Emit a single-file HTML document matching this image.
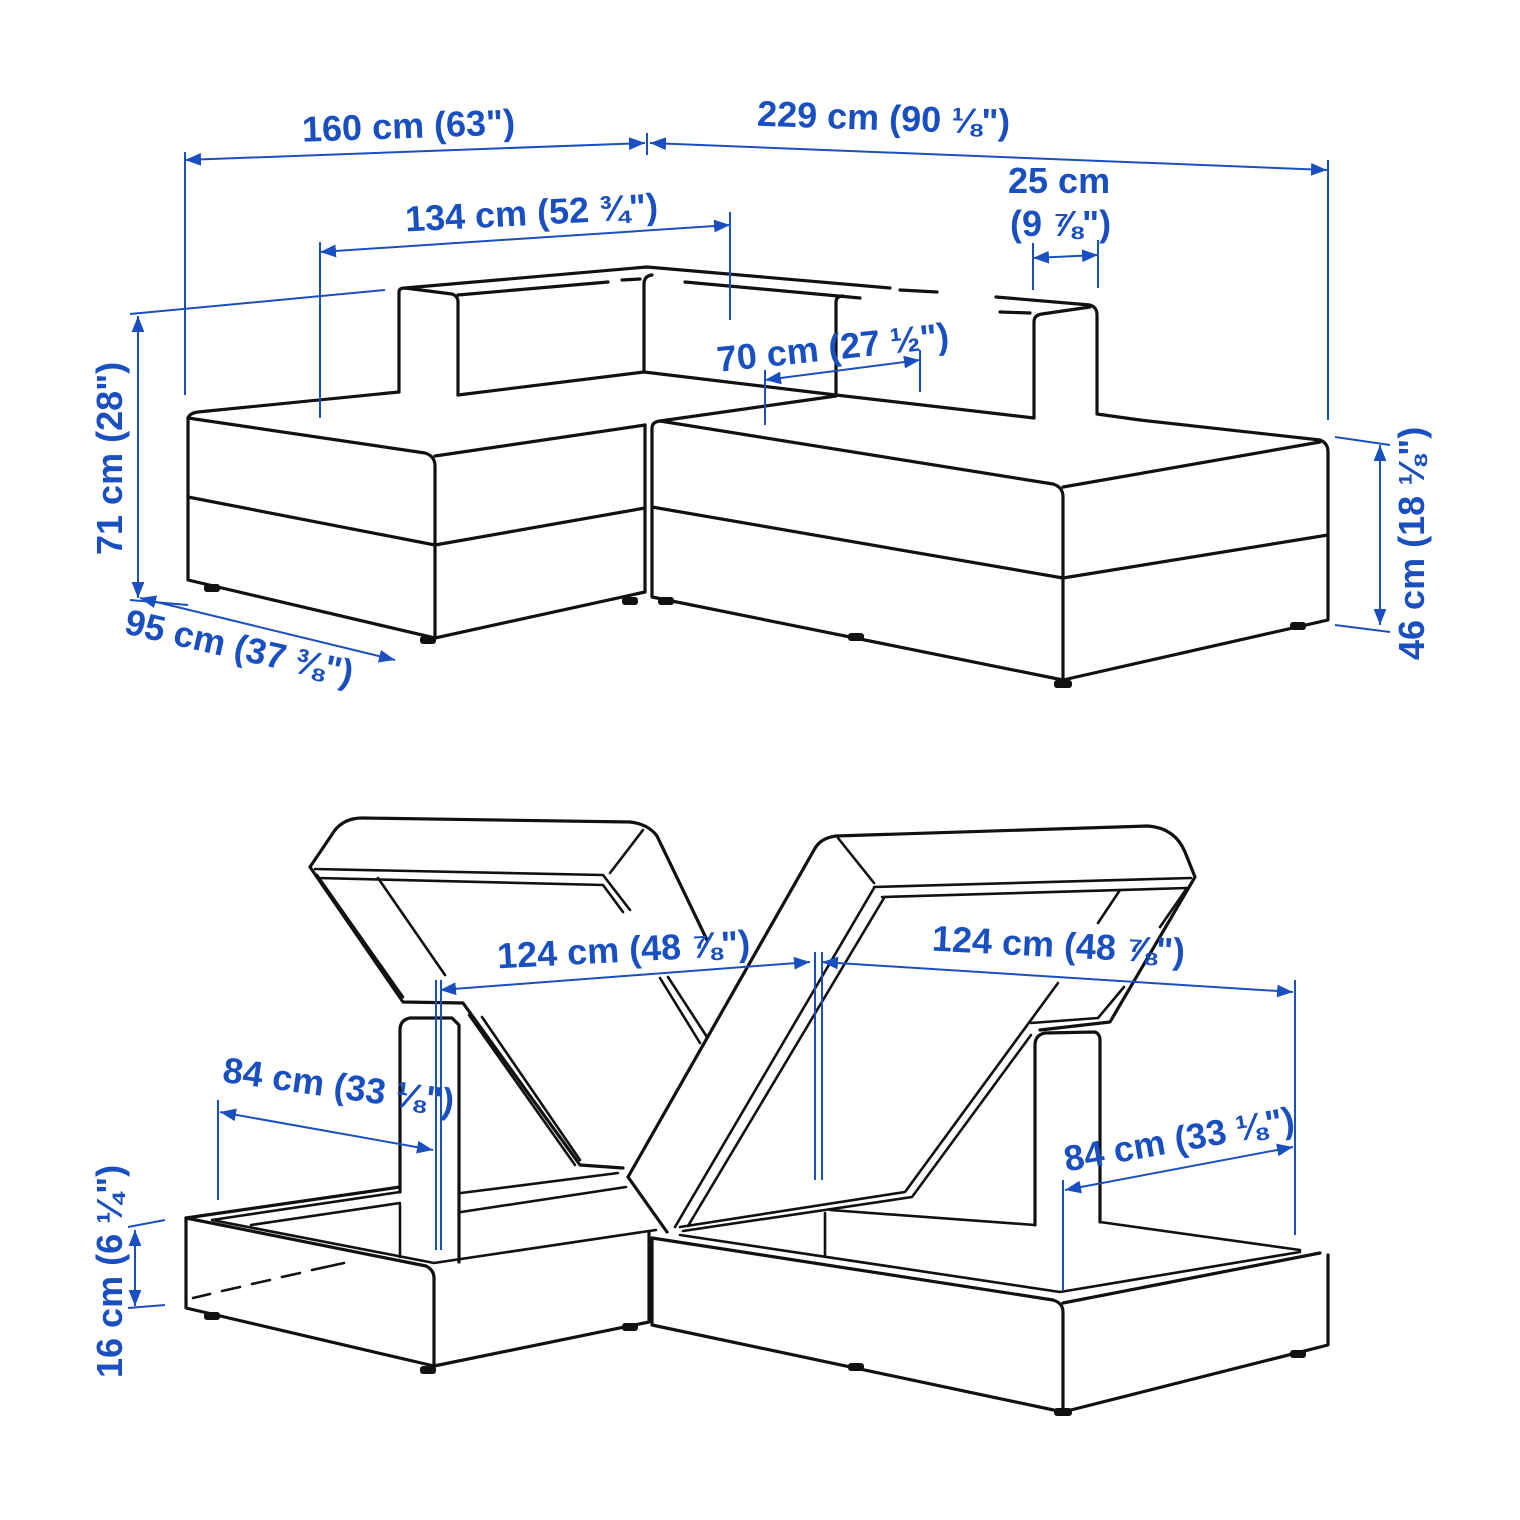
<!DOCTYPE html>
<html><head><meta charset="utf-8"><style>
html,body{margin:0;padding:0;background:#fff}
svg{display:block}
.k{fill:none;stroke:#111;stroke-width:3.2;stroke-linejoin:round;stroke-linecap:round}
.kt{fill:none;stroke:#111;stroke-width:2.6;stroke-linejoin:round;stroke-linecap:round}
.b{fill:none;stroke:#1a4fc0;stroke-width:2}
.t{fill:#1a4fc0;font-family:"Liberation Sans",sans-serif;font-weight:bold;font-size:36px}
.f{fill:#111}
</style></head><body>
<svg width="1520" height="1520" viewBox="0 0 1520 1520">
<defs><marker id="a" viewBox="0 0 10 10" refX="10" refY="5" markerWidth="8" markerHeight="8" orient="auto-start-reverse"><path d="M0,1 L10,5 L0,9 z" fill="#1a4fc0"/></marker></defs>

<!-- TOP SOFA -->
<path class="k" d="M399,392 L399,292 Q399,288 405,288 L452,294 Q458,296 458,302 L458,395"/>
<path class="k" d="M405,288 L647,267 L890,288"/>
<path class="k" d="M900,290 L937,292"/>
<path class="k" d="M458,295 L608,282 M622,280 L640,279 M685,282 L860,298"/>
<path class="k" d="M644,372 L644,284 Q644,276 652,275"/>
<path class="k" d="M836,395 L836,302 Q836,296 843,296"/>
<path class="k" d="M996,297 L1090,305 Q1097,307 1097,315 L1097,413"/>
<path class="k" d="M1000,312 L1030,313 M1034,418 L1034,322 Q1034,315 1042,314 L1090,307"/>
<path class="k" d="M458,395 L644,372 L836,395 L1034,418"/>
<path class="k" d="M1097,414 L1140,420"/>
<path class="k" d="M188,418 L188,580 L435,638 L645,592"/>
<path class="k" d="M188,418 Q190,413 198,412 L399,392"/>
<path class="k" d="M188,418 L425,453 Q435,456 435,466 L435,638"/>
<path class="k" d="M435,456 L645,425"/>
<path class="k" d="M188,497 L435,545 L645,508"/>
<path class="k" d="M652,428 Q652,422 660,421 L836,396 M1140,420 L1320,440 Q1328,443 1328,452 L1328,620 L1063,680 L652,597 L652,428"/>
<path class="k" d="M660,421 L1053,484 Q1063,487 1063,497 L1063,680"/>
<path class="k" d="M1063,487 L1320,442"/>
<path class="k" d="M652,507 L1063,578 L1328,535"/>
<path class="k" d="M645,425 L645,592"/>
<g class="f"><rect x="204" y="584" width="16" height="8" rx="3"/><rect x="420" y="636" width="16" height="8" rx="3"/><rect x="622" y="597" width="16" height="8" rx="3"/><rect x="658" y="597" width="16" height="8" rx="3"/><rect x="848" y="633" width="16" height="8" rx="3"/><rect x="1054" y="680" width="18" height="8" rx="3"/><rect x="1290" y="622" width="16" height="8" rx="3"/></g>

<path class="b" d="M185,160 L645,143" marker-start="url(#a)" marker-end="url(#a)"/>
<path class="b" d="M650,143 L1327,170" marker-start="url(#a)" marker-end="url(#a)"/>
<path class="b" d="M185,152 L185,395 M647,133 L647,155 M1328,160 L1328,420"/>
<path class="b" d="M320,252 L730,225" marker-start="url(#a)" marker-end="url(#a)"/>
<path class="b" d="M320,242 L320,418 M730,212 L730,320"/>
<path class="b" d="M1033,258 L1098,255" marker-start="url(#a)" marker-end="url(#a)"/>
<path class="b" d="M1033,243 L1033,290 M1098,240 L1098,288"/>
<path class="b" d="M765,380 L920,360" marker-start="url(#a)" marker-end="url(#a)"/>
<path class="b" d="M765,370 L765,425 M920,350 L920,392"/>
<path class="b" d="M138,316 L138,598" marker-start="url(#a)" marker-end="url(#a)"/>
<path class="b" d="M130,314 L385,290 M130,600 L188,605"/>
<path class="b" d="M140,598 L395,660" marker-start="url(#a)" marker-end="url(#a)"/>
<path class="b" d="M1380,445 L1380,625" marker-start="url(#a)" marker-end="url(#a)"/>
<path class="b" d="M1335,437 L1390,445 M1335,625 L1390,632"/>
<text class="t" x="302" y="138" transform="rotate(-2 410 128)">160 cm (63")</text>
<text class="t" x="757" y="130" transform="rotate(2 880 120)">229 cm (90 ⅛")</text>
<text class="t" x="405" y="225" transform="rotate(-3 530 215)">134 cm (52 ¾")</text>
<text class="t" x="1008" y="193">25 cm</text>
<text class="t" x="1010" y="236">(9 ⅞")</text>
<text class="t" x="716" y="360" transform="rotate(-6 830 345)">70 cm (27 ½")</text>
<text class="t" x="0" y="0" transform="translate(122,555) rotate(-90)">71 cm (28")</text>
<text class="t" x="0" y="0" transform="translate(123,633) rotate(13)">95 cm (37 ⅜")</text>
<text class="t" x="0" y="0" transform="translate(1424,660) rotate(-90)">46 cm (18 ⅛")</text>

<!-- BOTTOM SOFA -->
<path class="k" d="M186,1218 L186,1308 L434,1366 L649,1322 L649,1232"/>
<path class="k" d="M186,1218 L426,1266 Q434,1270 434,1278 L434,1366"/>
<path class="k" d="M186,1218 L400,1187"/>
<path class="kt" d="M212,1220 L400,1192 M251,1225 L400,1203 M212,1220 L434,1263 L656,1230 M461,1193 L618,1173 M461,1212 L626,1187 M400,1205 L400,1257"/>
<path class="k" d="M400,1192 L400,1030 Q400,1020 410,1018 L452,1018 L459,1025 L459,1262"/>
<path class="k" d="M193,1298 L210,1294 M222,1291 L240,1287 M252,1284 L270,1280 M282,1277 L300,1273 M312,1270 L344,1263" style="stroke-width:2.6"/>
<path class="k" d="M310,867 L335,830 Q345,818 362,818 L630,822 Q648,824 657,836 L707,940"/>
<path class="k" d="M310,867 L403,1002 L463,1003 L580,1165 L623,1168"/>
<path class="kt" d="M315,869 L603,875 L630,910"/>
<path class="kt" d="M317,875 L403,997 M318,878 L603,885 L623,912"/>
<path class="kt" d="M378,878 L445,975 M643,830 L610,873"/>
<path class="kt" d="M482,1017 L580,1160 M469,1015 L575,1165"/>
<path class="kt" d="M660,978 L700,1043 M668,977 L707,1037"/>
<path class="k" d="M652,1238 L652,1325 L1063,1412 L1328,1345 L1328,1255"/>
<path class="k" d="M652,1238 L1053,1300 Q1063,1303 1063,1312 L1063,1412"/>
<path class="k" d="M1063,1303 L1320,1253"/>
<path class="kt" d="M680,1235 L1060,1292 L1300,1252 M825,1213 L825,1255 M830,1210 L1035,1225 M1100,1222 L1300,1250"/>
<path class="k" d="M1035,1225 L1035,1045 Q1035,1035 1045,1033 L1095,1032 Q1100,1034 1100,1040 L1100,1222"/>
<path class="k" d="M628,1177 L814,850 Q820,838 836,836 L1148,826 Q1175,828 1185,852 L1195,877 L1110,1022 L1040,1030"/>
<path class="k" d="M628,1177 L667,1232"/>
<path class="kt" d="M838,838 L874,883 M874,887 L1191,878 M882,897 L1187,888 L1160,927 M1120,890 L1098,923"/>
<path class="kt" d="M874,888 L675,1227 M884,898 L688,1226"/>
<path class="kt" d="M680,1227 L905,1192 L1058,983 M683,1231 L912,1197 L1031,1035"/>
<path class="kt" d="M1124,987 L1098,1018 L1031,1023"/>
<g class="f"><rect x="204" y="1312" width="16" height="8" rx="3"/><rect x="420" y="1366" width="16" height="8" rx="3"/><rect x="622" y="1323" width="16" height="8" rx="3"/><rect x="848" y="1363" width="16" height="8" rx="3"/><rect x="1054" y="1408" width="18" height="8" rx="3"/><rect x="1290" y="1350" width="16" height="8" rx="3"/></g>

<path class="b" d="M440,990 L810,962" marker-start="url(#a)" marker-end="url(#a)"/>
<path class="b" d="M822,962 L1293,992" marker-start="url(#a)" marker-end="url(#a)"/>
<path class="b" d="M436,980 L436,1250 M441,980 L441,1250 M815,952 L815,1180 M822,952 L822,1180 M1295,980 L1295,1235"/>
<path class="b" d="M220,1112 L433,1150" marker-start="url(#a)" marker-end="url(#a)"/>
<path class="b" d="M218,1100 L218,1200"/>
<path class="b" d="M1065,1190 L1293,1147" marker-start="url(#a)" marker-end="url(#a)"/>
<path class="b" d="M1063,1180 L1063,1290"/>
<path class="b" d="M135,1230 L135,1306" marker-start="url(#a)" marker-end="url(#a)"/>
<path class="b" d="M128,1227 L165,1220 M128,1308 L165,1305"/>
<text class="t" x="497" y="962" transform="rotate(-3 620 950)">124 cm (48 ⅞")</text>
<text class="t" x="932" y="957" transform="rotate(3 1055 945)">124 cm (48 ⅞")</text>
<text class="t" x="220" y="1097" transform="rotate(8 330 1100)">84 cm (33 ⅛")</text>
<text class="t" x="1060" y="1152" transform="rotate(-10 1175 1125)">84 cm (33 ⅛")</text>
<text class="t" x="0" y="0" transform="translate(122,1378) rotate(-90)">16 cm (6 ¼")</text>
</svg>
</body></html>
